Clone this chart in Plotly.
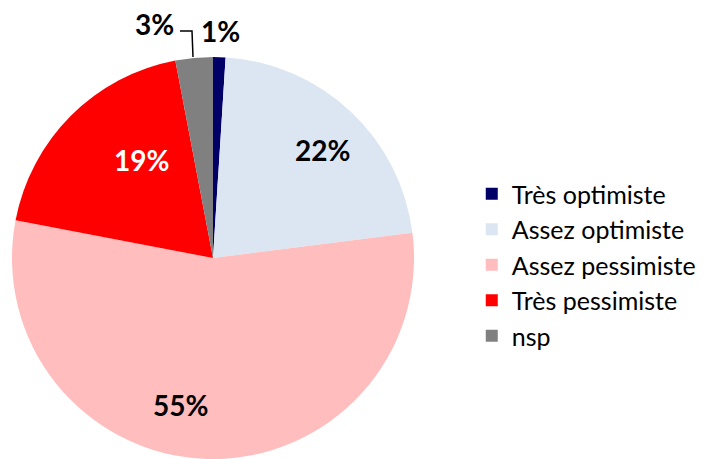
import plotly.graph_objects as go

categories = ["Très optimiste", "Assez optimiste", "Assez pessimiste", "Très pessimiste", "nsp"]
values = [1, 22, 55, 19, 3]
colors = ["#000066", "#DCE6F2", "#FFBDBD", "#FF0000", "#808080"]
label_colors = ["#000000", "#000000", "#000000", "#FFFFFF", "#000000"]

W, H = 707, 459
ml, mt = 10, 57
plot_w = W - ml
plot_h = H - mt

# pie geometry in pixels
cx, cy, R = 213, 258, 201

def px_to_paper(x, y):
    return (x - ml) / plot_w, (H - y) / plot_h

# label anchor positions (pixels) matching the original layout
label_pos = [(220, 31), (322, 150), (180, 405), (141, 160), (154, 24)]

fig = go.Figure(go.Pie(
    labels=categories,
    values=values,
    sort=False,
    direction="clockwise",
    rotation=0,
    marker=dict(colors=colors, line=dict(width=0)),
    textinfo="none",
    hoverinfo="label+percent",
    domain=dict(x=[(cx - R - ml) / plot_w, (cx + R - ml) / plot_w], y=[0, 1]),
))

for v, c, (lx, ly) in zip(values, label_colors, label_pos):
    xp, yp = px_to_paper(lx, ly)
    fig.add_annotation(
        x=xp, y=yp, xref="paper", yref="paper",
        text=f"<b>{v}%</b>", showarrow=False,
        xanchor="center", yanchor="middle",
        font=dict(family="Lato", size=28, color=c),
    )

# leader line for the small "nsp" slice label
leader = [(193, 57), (192, 31), (180, 31)]
path = "M " + " L ".join(f"{px_to_paper(x, y)[0]},{px_to_paper(x, y)[1]}" for x, y in leader)
fig.add_shape(type="path", path=path, xref="paper", yref="paper",
              line=dict(color="#000000", width=1.5))

fig.update_layout(
    width=W, height=H,
    margin=dict(l=ml, r=0, t=mt, b=0),
    paper_bgcolor="white",
    showlegend=True,
    legend=dict(
        x=0.6625, y=0.4825, xanchor="left", yanchor="middle",
        font=dict(family="Lato", size=25, color="#000000"),
        traceorder="normal",
    ),
)

fig.write_html("out.html", config={"displayModeBar": False},
               post_script="document.body.style.margin='0';")
